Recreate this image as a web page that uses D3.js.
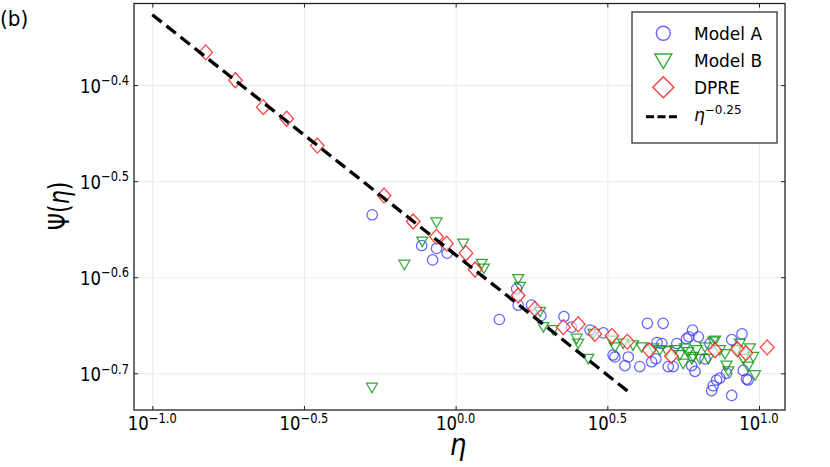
<!DOCTYPE html>
<html>
<head>
<meta charset="utf-8">
<script src="https://cdn.jsdelivr.net/npm/d3@7"></script>
<style>
  body { margin: 0; background: #fff; }
  svg { display: block; font-family: "DejaVu Sans", sans-serif; }
</style>
</head>
<body>
<svg id="chart" width="830" height="467"></svg>
<script>
var modelA_logEta = [-0.275, -0.112, -0.063, -0.076, -0.028, 0.144, 0.201, 0.206, 0.250, 0.281,
  0.357, 0.443, 0.487, 0.519, 0.525, 0.569, 0.558, 0.607, 0.632, 0.684, 0.646, 0.660, 0.664,
  0.680, 0.729, 0.717, 0.701, 0.761, 0.781, 0.800, 0.778, 0.789, 0.822, 0.838, 0.844, 0.849,
  0.860, 0.871, 0.893, 0.910, 0.910, 0.944, 0.948, 0.959, 0.964, 0.769, 0.382];
var modelA_logPsi = [-0.535, -0.567, -0.570, -0.582, -0.575, -0.644, -0.612, -0.629, -0.629, -0.640,
  -0.641, -0.655, -0.658, -0.681, -0.683, -0.683, -0.692, -0.693, -0.648, -0.648, -0.688, -0.685, -0.668,
  -0.669, -0.669, -0.693, -0.693, -0.664, -0.655, -0.662, -0.692, -0.698, -0.685, -0.669, -0.718, -0.713,
  -0.707, -0.705, -0.700, -0.665, -0.723, -0.659, -0.697, -0.706, -0.707, -0.662, -0.652];

var modelB_logEta = [-0.276, -0.169, -0.110, -0.063, 0.025, 0.086, 0.093, 0.206, 0.212, 0.278,
  0.289, 0.322, 0.399, 0.404, 0.437, 0.454, 0.514, 0.525, 0.552, 0.585, 0.613, 0.651, 0.673,
  0.696, 0.723, 0.739, 0.750, 0.767, 0.783, 0.805, 0.822, 0.833, 0.849, 0.871, 0.888, 0.893,
  0.899, 0.926, 0.937, 0.948, 0.964, 0.970, 0.981, 0.987, 0.756, 0.778, 0.794, 0.855];
var modelB_logPsi = [-0.715, -0.587, -0.563, -0.543, -0.565, -0.586, -0.591, -0.602, -0.610, -0.636,
  -0.652, -0.655, -0.664, -0.669, -0.685, -0.659, -0.666, -0.673, -0.669, -0.671, -0.673, -0.674, -0.676,
  -0.677, -0.676, -0.681, -0.690, -0.678, -0.683, -0.685, -0.673, -0.685, -0.667, -0.676, -0.680, -0.692,
  -0.698, -0.676, -0.669, -0.685, -0.693, -0.674, -0.683, -0.702, -0.674, -0.685, -0.676, -0.666];

var dpre_logEta = [-0.824, -0.726, -0.634, -0.557, -0.456, -0.236, -0.140, -0.063, -0.030, 0.034,
  0.064, 0.206, 0.261, 0.355, 0.404, 0.459, 0.515, 0.566, 0.638, 0.711, 0.855, 0.929, 0.957, 1.027];
var dpre_logPsi = [-0.366, -0.395, -0.423, -0.435, -0.463, -0.515, -0.542, -0.558, -0.565, -0.575,
  -0.592, -0.619, -0.633, -0.652, -0.649, -0.659, -0.661, -0.667, -0.676, -0.682, -0.676, -0.675, -0.679, -0.673];

// power law guide: Psi = fitPrefactor * eta^fitExponent
var fitPrefactor = 0.265,
  fitExponent = -0.25,
  fitEta = [0.1, 3.8];

// Ticks (exponents) and their labels
var xTickExps = [-1.0, -0.5, 0.0, 0.5, 1.0],
  xTickLabels = ["\u22121.0", "\u22120.5", "0.0", "0.5", "1.0"];
var yTickExps = [-0.7, -0.6, -0.5, -0.4],
  yTickLabels = ["\u22120.7", "\u22120.6", "\u22120.5", "\u22120.4"];

var legendNames = ["Model A", "Model B", "DPRE"];

// Placement
var pLeft = 134, pRight = 785, pTop = 3.5, pBottom = 410;
var stretch = 1.2; // tick text is a bit taller than wide in the original

var x = d3.scaleLog()
  .domain([Math.pow(10, -1.0603), Math.pow(10, 1.0857)])
  .range([pLeft, pRight]);
var y = d3.scaleLog()
  .domain([Math.pow(10, -0.7382), Math.pow(10, -0.3151)])
  .range([pBottom, pTop]);

var svg = d3.select("#chart");

var xTicks = xTickExps.map(function(e) { return Math.pow(10, e); }),
  yTicks = yTickExps.map(function(e) { return Math.pow(10, e); });

// grid
svg.append("g")
  .attr("transform", "translate(0," + pBottom + ")")
  .call(d3.axisBottom(x).tickValues(xTicks).tickSize(-(pBottom - pTop)).tickFormat(""))
  .call(function(g) { g.select(".domain").remove(); g.selectAll("line").attr("stroke", "#e4e4e4").attr("stroke-width", 0.8); });
svg.append("g")
  .attr("transform", "translate(" + pLeft + ",0)")
  .call(d3.axisLeft(y).tickValues(yTicks).tickSize(-(pRight - pLeft)).tickFormat(""))
  .call(function(g) { g.select(".domain").remove(); g.selectAll("line").attr("stroke", "#e4e4e4").attr("stroke-width", 0.8); });

// points
function pts(ex, ey) {
  return ex.map(function(e, i) { return [Math.pow(10, e), Math.pow(10, ey[i])]; });
}
var triPath = "M-5.5,-4.5L5.5,-4.5L0,5Z",
  diaPath = "M0,-7.5L6.8,0L0,7.5L-6.8,0Z";

svg.append("g").selectAll("circle")
  .data(pts(modelA_logEta, modelA_logPsi))
  .enter().append("circle")
  .attr("cx", function(d) { return x(d[0]); })
  .attr("cy", function(d) { return y(d[1]); })
  .attr("r", 5.2)
  .attr("fill", "none")
  .attr("stroke", "#3030ff")
  .attr("stroke-opacity", 0.75)
  .attr("stroke-width", 1.25);

svg.append("g").selectAll("path")
  .data(pts(modelB_logEta, modelB_logPsi))
  .enter().append("path")
  .attr("d", triPath)
  .attr("transform", function(d) { return "translate(" + x(d[0]) + "," + y(d[1]) + ")"; })
  .attr("fill", "none")
  .attr("stroke", "#109a10")
  .attr("stroke-opacity", 0.85)
  .attr("stroke-width", 1.25);

svg.append("g").selectAll("path")
  .data(pts(dpre_logEta, dpre_logPsi))
  .enter().append("path")
  .attr("d", diaPath)
  .attr("transform", function(d) { return "translate(" + x(d[0]) + "," + y(d[1]) + ")"; })
  .attr("fill", "#fff")
  .attr("fill-opacity", 0.55)
  .attr("stroke", "#ff1a1a")
  .attr("stroke-opacity", 0.85)
  .attr("stroke-width", 1.25);

// power law line
svg.append("path")
  .datum(fitEta.map(function(e) { return [e, fitPrefactor * Math.pow(e, fitExponent)]; }))
  .attr("d", d3.line().x(function(d) { return x(d[0]); }).y(function(d) { return y(d[1]); }))
  .attr("fill", "none")
  .attr("stroke", "#000")
  .attr("stroke-width", 3.3)
  .attr("stroke-dasharray", "12,6");

// inward ticks on all sides
function tickStyle(g) { g.select(".domain").remove(); g.selectAll("line").attr("stroke", "#222"); }
svg.append("g").attr("transform", "translate(0," + pBottom + ")")
  .call(d3.axisBottom(x).tickValues(xTicks).tickSize(-4).tickFormat("")).call(tickStyle);
svg.append("g").attr("transform", "translate(0," + pTop + ")")
  .call(d3.axisTop(x).tickValues(xTicks).tickSize(-4).tickFormat("")).call(tickStyle);
svg.append("g").attr("transform", "translate(" + pLeft + ",0)")
  .call(d3.axisLeft(y).tickValues(yTicks).tickSize(-4).tickFormat("")).call(tickStyle);
svg.append("g").attr("transform", "translate(" + pRight + ",0)")
  .call(d3.axisRight(y).tickValues(yTicks).tickSize(-4).tickFormat("")).call(tickStyle);

// frame
svg.append("rect")
  .attr("x", pLeft).attr("y", pTop)
  .attr("width", pRight - pLeft).attr("height", pBottom - pTop)
  .attr("fill", "none").attr("stroke", "#222").attr("stroke-width", 1.3);

// tick labels 10^e
function powLabel(g, sup, anchor) {
  var t = g.append("text")
    .attr("text-anchor", anchor)
    .attr("fill", "#000")
    .style("font-size", "16.5px")
    .text("10");
  t.append("tspan")
    .attr("dy", -6.2)
    .style("font-size", "11.5px")
    .text(sup);
}
xTicks.forEach(function(v, i) {
  var g = svg.append("g").attr("transform", "translate(" + x(v) + ",430) scale(1," + stretch + ")");
  powLabel(g, xTickLabels[i], "middle");
});
yTicks.forEach(function(v, i) {
  var g = svg.append("g").attr("transform", "translate(129," + (y(v) + 7.7) + ") scale(1," + stretch + ")");
  powLabel(g, yTickLabels[i], "end");
});

// axis titles
svg.append("text")
  .attr("transform", "translate(458,455) scale(1,1.15)")
  .attr("text-anchor", "middle")
  .style("font-size", "26px")
  .style("font-style", "italic")
  .text("\u03b7");

var yTitle = svg.append("text")
  .attr("transform", "translate(69,206) rotate(-90) scale(1,1.25)")
  .attr("text-anchor", "middle")
  .style("font-size", "22px");
yTitle.append("tspan").text("\u03a8(");
yTitle.append("tspan").style("font-style", "italic").text("\u03b7");
yTitle.append("tspan").text(")");

svg.append("text")
  .attr("transform", "translate(0,26) scale(1,1.1)")
  .style("font-size", "20px")
  .text("(b)");

// legend
var lg = svg.append("g");
lg.append("rect")
  .attr("x", 632).attr("y", 12)
  .attr("width", 145).attr("height", 131)
  .attr("fill", "#fff").attr("stroke", "#333").attr("stroke-width", 1.3);

var legY = [33.3, 61, 87.3, 116.7];
lg.append("circle").attr("cx", 663.3).attr("cy", legY[0]).attr("r", 7)
  .attr("fill", "none").attr("stroke", "#3030ff").attr("stroke-opacity", 0.75).attr("stroke-width", 1.4);
lg.append("path").attr("d", "M-8.5,-7L8.5,-7L0,7.5Z")
  .attr("transform", "translate(663.3," + legY[1] + ")")
  .attr("fill", "none").attr("stroke", "#109a10").attr("stroke-opacity", 0.85).attr("stroke-width", 1.4);
lg.append("path").attr("d", "M0,-10.5L10.5,0L0,10.5L-10.5,0Z")
  .attr("transform", "translate(663.3," + legY[2] + ")")
  .attr("fill", "none").attr("stroke", "#ff1a1a").attr("stroke-opacity", 0.85).attr("stroke-width", 1.4);
lg.append("line")
  .attr("x1", 646).attr("x2", 677).attr("y1", legY[3]).attr("y2", legY[3])
  .attr("stroke", "#000").attr("stroke-width", 3).attr("stroke-dasharray", "8,3.5");

legendNames.forEach(function(n, i) {
  lg.append("text")
    .attr("x", 694).attr("y", legY[i] + 6.2)
    .style("font-size", "17px")
    .text(n);
});
var fitLabel = lg.append("text")
  .attr("x", 694).attr("y", legY[3] + 4)
  .style("font-size", "17px");
fitLabel.append("tspan").style("font-style", "italic").text("\u03b7");
fitLabel.append("tspan").attr("dy", -7).style("font-size", "12px").text("\u22120.25");
</script>
</body>
</html>
